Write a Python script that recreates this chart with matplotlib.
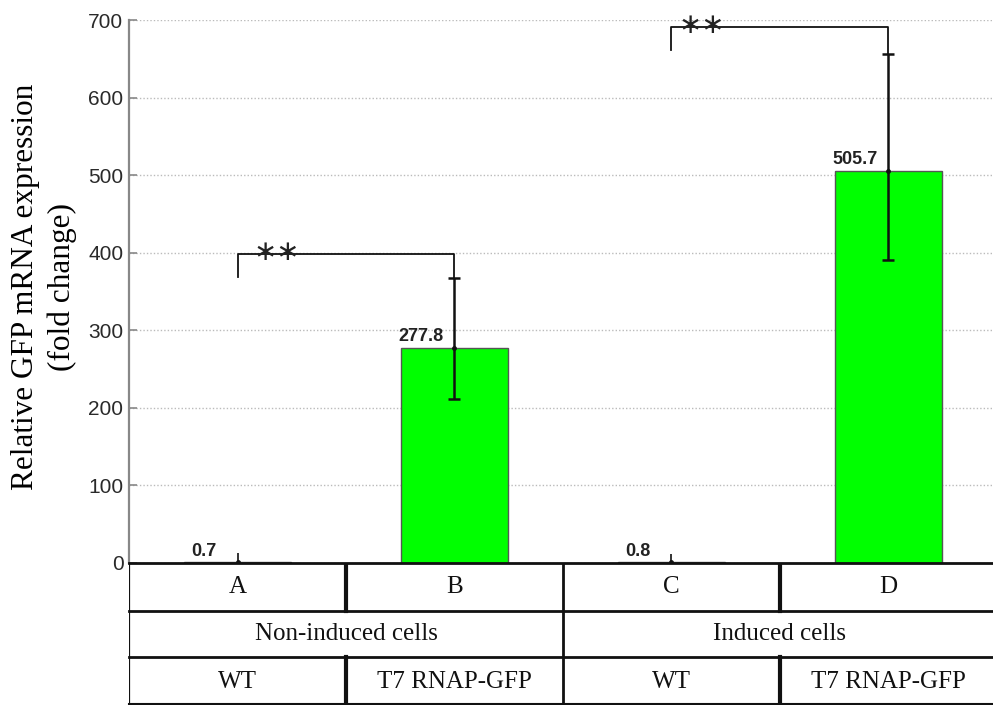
import matplotlib
matplotlib.use("Agg")
import matplotlib.pyplot as plt
import numpy as np

# ---- data ----
categories = ["A", "B", "C", "D"]
values = [0.7, 277.8, 0.8, 505.7]
err_upper = [12.0, 367.0 - 277.8, 11.0, 656.0 - 505.7]
err_lower = [0.7, 277.8 - 212.0, 0.8, 505.7 - 391.0]
value_labels = ["0.7", "277.8", "0.8", "505.7"]
groups = ["Non-induced cells", "Induced cells"]
strains = ["WT", "T7 RNAP-GFP", "WT", "T7 RNAP-GFP"]
yticks = [0, 100, 200, 300, 400, 500, 600, 700]
# significance brackets: (left bar, right bar, bracket height, left foot height)
brackets = [(0, 1, 398.0, 369.0), (2, 3, 691.0, 661.0)]

W, H = 993, 705
fig = plt.figure(figsize=(W / 100, H / 100), dpi=100)

x0, x1 = 129, 997
ytop, ybot = 20, 563
ax = fig.add_axes([x0 / W, (H - ybot) / H, (x1 - x0) / W, (ybot - ytop) / H])

xpos = np.arange(len(categories)) + 0.5
ax.bar(xpos, values, width=0.495, color="#00ff00", edgecolor="#555555",
       linewidth=1.0, zorder=2)
big = [1, 3]
small = [0, 2]
ax.errorbar(xpos[big], [values[i] for i in big],
            yerr=[[err_lower[i] for i in big], [err_upper[i] for i in big]],
            fmt="none", ecolor="#111111", elinewidth=1.8, capsize=4.5,
            capthick=1.8, zorder=3)
ax.errorbar(xpos[small], [values[i] for i in small],
            yerr=[[err_lower[i] for i in small], [err_upper[i] for i in small]],
            fmt="none", ecolor="#111111", elinewidth=1.2, capsize=0,
            zorder=3)
ax.plot(xpos, values, linestyle="none", marker="o", ms=2.5, color="#111111",
        zorder=4)

for xp, v, lab in zip(xpos, values, value_labels):
    ax.text(xp - 0.156, v + 3, lab, ha="center", va="bottom",
            fontsize=13, fontweight="bold", family="Liberation Sans",
            color="#222222", zorder=5)

ax.set_xlim(0, 4)
ax.set_ylim(0, 700)
ax.set_yticks(yticks)
ax.set_yticklabels([str(t) for t in yticks], family="Liberation Sans",
                   fontsize=15, color="#2a2a2a")
ax.tick_params(axis="y", direction="in", length=6, width=1.2,
               color="#888888", pad=4)
ax.set_xticks([])
for s in ["top", "right", "bottom"]:
    ax.spines[s].set_visible(False)
ax.spines["left"].set_color("#888888")
ax.spines["left"].set_linewidth(1.6)
ax.yaxis.grid(True, linestyle=(0, (1, 1.5)), color="#bbbbbb", linewidth=1.0)
ax.set_axisbelow(True)

# significance brackets
for (i, j, yb, yfoot), sx in zip(brackets, [0.18, 0.14]):
    xl, xr = xpos[i], xpos[j]
    yr = values[j] + err_upper[j]
    ax.plot([xl, xl, xr, xr], [yfoot, yb, yb, yr], color="#111111",
            linewidth=1.3, clip_on=False, zorder=4)
    ax.text(xl + sx, yb + 3, "\u2217\u2217", ha="center", va="center",
            fontsize=20, family="DejaVu Sans", color="#222222",
            clip_on=False, zorder=5)

# y label
fig.text(44 / W, 1 - 287 / H, "Relative GFP mRNA expression\n(fold change)",
         rotation=90, ha="center", va="center", multialignment="center",
         family="Liberation Serif", fontsize=22.5, linespacing=1.3)

# ---- table below the axis ----
tax = fig.add_axes([x0 / W, 0, (x1 - x0) / W, (H - ybot) / H])
tax.set_xlim(0, 4)
tax.set_ylim(H, ybot)
tax.axis("off")
rows = [563, 611, 657, 705]
for r in rows[:3]:
    tax.plot([0, 4], [r, r], color="#111111", linewidth=2.0, clip_on=False)
tax.plot([0, 4], [703.5, 703.5], color="#111111", linewidth=1.5, clip_on=False)
tax.plot([0, 0], [563, 705], color="#111111", linewidth=1.6)
tax.plot([2, 2], [563, 705], color="#111111", linewidth=2.0)
for xc in [1, 3]:
    tax.plot([xc, xc], [563, 611], color="#111111", linewidth=3.0)
    tax.plot([xc, xc], [657, 705], color="#111111", linewidth=3.0)

tfont = dict(family="Liberation Serif", fontsize=18, color="#111111",
             ha="center", va="center")
for xp, c in zip(xpos, categories):
    tax.text(xp, 587, c, **tfont)
for k, g in enumerate(groups):
    tax.text(2 * k + 1, 634, g, **tfont)
for xp, s in zip(xpos, strains):
    tax.text(xp, 682, s, **tfont)

fig.savefig("out.png", dpi=100)
